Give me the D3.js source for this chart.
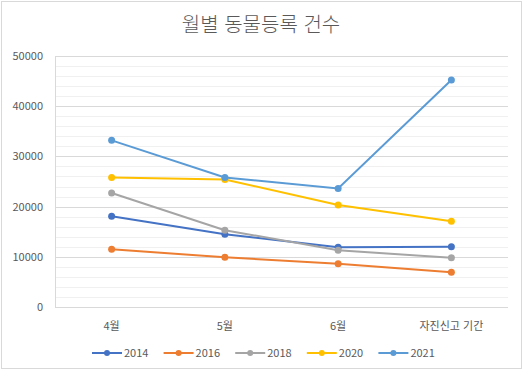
<!DOCTYPE html>
<html lang="ko">
<head>
    <meta charset="UTF-8">
    <title>월별 동물등록 건수</title>
    <script src="https://d3js.org/d3.v7.min.js"></script>
    <style>
        body { margin: 0; background: #fff; }
        text { font-family: "Noto Sans CJK KR", "Noto Sans", sans-serif; fill: #595959; }
        .grid-major { stroke: #d9d9d9; stroke-width: 1; }
        .grid-minor { stroke: #f0f0f0; stroke-width: 1; }
        .line { fill: none; stroke-width: 2; }
    </style>
</head>
<body>
<div id="chart"></div>
<script>
    // categories and series
    const categories = ["4월", "5월", "6월", "자진신고 기간"];
    const years = ["2014", "2016", "2018", "2020", "2021"];
    const v2014 = [18100, 14500, 11900, 12000];
    const v2016 = [11500, 9900, 8600, 6900];
    const v2018 = [22700, 15300, 11300, 9800];
    const v2020 = [25800, 25400, 20300, 17100];
    const v2021 = [33200, 25800, 23600, 45200];
    const yTicks = [0, 10000, 20000, 30000, 40000, 50000];
    const colors = ["#4472c4", "#ed7d31", "#a5a5a5", "#ffc000", "#5b9bd5"];

    const series = years.map((y, i) => ({
        name: y,
        values: [v2014, v2016, v2018, v2020, v2021][i],
        color: colors[i]
    }));

    const W = 525, H = 371;
    const margin = {top: 56, right: 17, bottom: 64, left: 55};
    const width = W - margin.left - margin.right,
          height = H - margin.top - margin.bottom;

    const svg = d3.select("#chart").append("svg")
        .attr("width", W)
        .attr("height", H);

    // outer border
    svg.append("rect")
        .attr("x", 1.5).attr("y", 1.5)
        .attr("width", W - 5).attr("height", H - 4)
        .attr("fill", "none")
        .attr("stroke", "#d9d9d9");

    svg.append("text")
        .attr("x", 261).attr("y", 32)
        .attr("text-anchor", "middle")
        .style("font-size", "20px")
        .style("font-weight", 300)
        .text("월별 동물등록 건수");

    const g = svg.append("g")
        .attr("transform", "translate(" + margin.left + "," + margin.top + ")");

    const x = d3.scalePoint()
        .domain(categories)
        .range([0, width])
        .padding(0.5);

    const y = d3.scaleLinear()
        .domain([0, 50000])
        .range([height, 0]);

    // minor gridlines every 2000
    g.selectAll(".grid-minor")
        .data(d3.range(2000, 50000, 2000).filter(v => v % 10000 !== 0))
        .join("line")
        .attr("class", "grid-minor")
        .attr("x1", 0).attr("x2", width)
        .attr("y1", d => Math.round(y(d)) + 0.5)
        .attr("y2", d => Math.round(y(d)) + 0.5);

    // major gridlines
    g.selectAll(".grid-major")
        .data(yTicks)
        .join("line")
        .attr("class", "grid-major")
        .attr("x1", 0).attr("x2", width)
        .attr("y1", d => Math.round(y(d)) + 0.5)
        .attr("y2", d => Math.round(y(d)) + 0.5);

    // left vertical line
    g.append("line")
        .attr("class", "grid-major")
        .attr("x1", 0.5).attr("x2", 0.5)
        .attr("y1", 0).attr("y2", height);

    // y labels
    g.selectAll(".ylab")
        .data(yTicks)
        .join("text")
        .attr("class", "ylab")
        .attr("x", -12)
        .attr("y", d => y(d) + 4)
        .attr("text-anchor", "end")
        .style("font-size", "11px")
        .text(d => d);

    // x labels
    g.selectAll(".xlab")
        .data(categories)
        .join("text")
        .attr("class", "xlab")
        .attr("x", d => x(d))
        .attr("y", height + 23)
        .attr("text-anchor", "middle")
        .style("font-size", "11px")
        .text(d => d);

    const line = d3.line()
        .x((d, i) => x(categories[i]))
        .y(d => y(d));

    series.forEach(s => {
        g.append("path")
            .datum(s.values)
            .attr("class", "line")
            .attr("stroke", s.color)
            .attr("d", line);
        g.selectAll(null)
            .data(s.values)
            .join("circle")
            .attr("cx", (d, i) => x(categories[i]))
            .attr("cy", d => y(d))
            .attr("r", 3.5)
            .attr("fill", s.color);
    });

    // legend
    const legend = svg.append("g")
        .attr("transform", "translate(92,353)");
    const item = legend.selectAll("g")
        .data(series)
        .join("g")
        .attr("transform", (d, i) => "translate(" + (i * 71.6) + ",0)");
    item.append("line")
        .attr("x1", 0).attr("x2", 30)
        .attr("y1", 0).attr("y2", 0)
        .attr("stroke", d => d.color)
        .attr("stroke-width", 2);
    item.append("circle")
        .attr("cx", 15).attr("cy", 0).attr("r", 3)
        .attr("fill", d => d.color);
    item.append("text")
        .attr("x", 32).attr("y", 4)
        .style("font-size", "11px")
        .text(d => d.name);
</script>
</body>
</html>
